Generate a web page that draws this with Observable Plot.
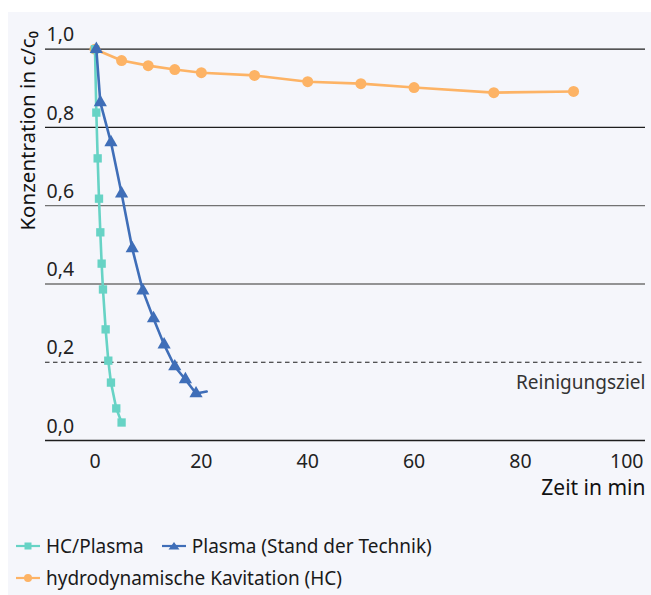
<!DOCTYPE html>
<html>
<head>
<meta charset="utf-8">
<script src="https://cdn.jsdelivr.net/npm/d3@7"></script>
<script src="https://cdn.jsdelivr.net/npm/@observablehq/plot@0.6"></script>
<style>
  html, body { margin: 0; padding: 0; background: #ffffff; width: 651px; height: 595px; overflow: hidden; }
  #panel { position: absolute; left: 8px; top: 12px; width: 643px; height: 583px; background: #f5f6fb; }
  #chart { position: absolute; left: 0; top: 0; }
  .row { position: absolute; left: 16px; height: 26px; display: flex; align-items: center;
         font-family: "Noto Sans", sans-serif; font-size: 19px; color: #1a1a1a; white-space: nowrap; }
  .item { display: inline-flex; align-items: center; margin-right: 18px; }
  .item svg { margin-right: 6px; }
</style>
</head>
<body>
<div id="panel"></div>
<div id="chart"></div>
<div class="row" id="row1" style="top:533px"></div>
<div class="row" id="row2" style="top:565px"></div>
<script>
// ---- data ----
const seriesNames = ["HC/Plasma", "Plasma (Stand der Technik)", "hydrodynamische Kavitation (HC)"];
const seriesColors = ["#67d3c5", "#3f6eb8", "#fdb365"];

const hcPlasmaT = [0, 0.25, 0.5, 0.75, 1, 1.25, 1.5, 2, 2.5, 3, 4, 5];
const hcPlasmaC = [1.0, 0.838, 0.721, 0.618, 0.532, 0.452, 0.386, 0.284, 0.204, 0.148, 0.082, 0.046];

const plasmaT = [0.25, 1, 3, 5, 7, 9, 11, 13, 15, 17, 19, 21];
const plasmaC = [1.0, 0.864, 0.762, 0.631, 0.491, 0.383, 0.312, 0.245, 0.189, 0.156, 0.120, 0.125];

const hcT = [0, 5, 10, 15, 20, 30, 40, 50, 60, 75, 90];
const hcC = [1.0, 0.971, 0.958, 0.948, 0.940, 0.933, 0.917, 0.912, 0.902, 0.889, 0.892];

const xTicks = [0, 20, 40, 60, 80, 100];
const yTicks = [0, 0.2, 0.4, 0.6, 0.8, 1.0];
const targetValue = 0.2;
const targetLabel = "Reinigungsziel";
const xLabel = "Zeit in min";
const yLabel = "Konzentration in c/c\u2080";

// ---- tables ----
const zip = (t, c) => t.map((d, i) => ({t: d, c: c[i]}));
const hcPlasma = zip(hcPlasmaT, hcPlasmaC);
const plasma = zip(plasmaT, plasmaC);
const hc = zip(hcT, hcC);
const fmt = d => d3.format(".1f")(d).replace(".", ",");

const font = "Noto Sans, sans-serif";
const chart = Plot.plot({
  width: 651,
  height: 510,
  marginLeft: 45,
  marginRight: 6,
  marginTop: 48.7,
  marginBottom: 70,
  style: {background: "transparent", fontFamily: font, fontSize: "19px", color: "#222"},
  x: {domain: [-9.31, 103.53]},
  y: {domain: [0, 1], axis: null},
  marks: [
    Plot.ruleY(yTicks.filter(d => d === 0 || d >= 0.8), {stroke: "#1e1e1e", strokeWidth: 1.3}),
    Plot.ruleY(yTicks.filter(d => d > 0.2 && d < 0.8), {stroke: "#727272", strokeWidth: 1.3}),
    Plot.ruleY([targetValue], {stroke: "#1e1e1e", strokeWidth: 1.2, strokeDasharray: "4.5,3.5"}),
    Plot.text(yTicks, {y: d => d, frameAnchor: "left", textAnchor: "start", dx: 1, dy: -14,
      text: fmt, fontSize: 19.5, fill: "#222"}),
    Plot.axisX(xTicks, {tickSize: 0, tickPadding: 14, fontSize: 19.5, fill: "#222", label: null,
      tickFormat: d => String(d)}),
    Plot.text([xLabel], {frameAnchor: "bottom-right", textAnchor: "end", lineAnchor: "middle", dy: 48,
      fontSize: 21, fill: "#111"}),
    Plot.text([yLabel], {frameAnchor: "left", rotate: -90, textAnchor: "middle", lineAnchor: "middle",
      dx: -17, dy: -114, fontSize: 20.5, fill: "#111"}),
    Plot.text([targetLabel], {y: () => targetValue, frameAnchor: "right", textAnchor: "end", dy: 21,
      fontSize: 19, fill: "#333"}),
    // series
    Plot.line(hc, {x: "t", y: "c", stroke: seriesColors[2], strokeWidth: 2.6}),
    Plot.dot(hc, {x: "t", y: "c", fill: seriesColors[2], r: 5.5, symbol: "circle"}),
    Plot.line(hcPlasma, {x: "t", y: "c", stroke: seriesColors[0], strokeWidth: 2.6}),
    Plot.dot(hcPlasma, {x: "t", y: "c", fill: seriesColors[0], r: 4.7, symbol: "square"}),
    Plot.line(plasma, {x: "t", y: "c", stroke: seriesColors[1], strokeWidth: 2.6}),
    Plot.dot(plasma.slice(0, -1), {x: "t", y: "c", fill: seriesColors[1], r: 4.9, symbol: "triangle"})
  ]
});
document.getElementById("chart").appendChild(chart);

// ---- legend ----
const swatch = (color, kind) => {
  let m = "";
  if (kind === "square") m = `<rect x="8.5" y="2.5" width="7" height="7" fill="${color}"/>`;
  if (kind === "triangle") m = `<path d="M12,2 L17.5,9.5 L6.5,9.5 Z" fill="${color}"/>`;
  if (kind === "circle") m = `<circle cx="12" cy="6" r="4" fill="${color}"/>`;
  return `<svg width="24" height="12" viewBox="0 0 24 12"><line x1="0" x2="24" y1="6" y2="6" stroke="${color}" stroke-width="2.2"/>${m}</svg>`;
};
const item = (i, kind) => `<span class="item">${swatch(seriesColors[i], kind)}<span>${seriesNames[i]}</span></span>`;
document.getElementById("row1").innerHTML = item(0, "square") + item(1, "triangle");
document.getElementById("row2").innerHTML = item(2, "circle");
</script>
</body>
</html>
